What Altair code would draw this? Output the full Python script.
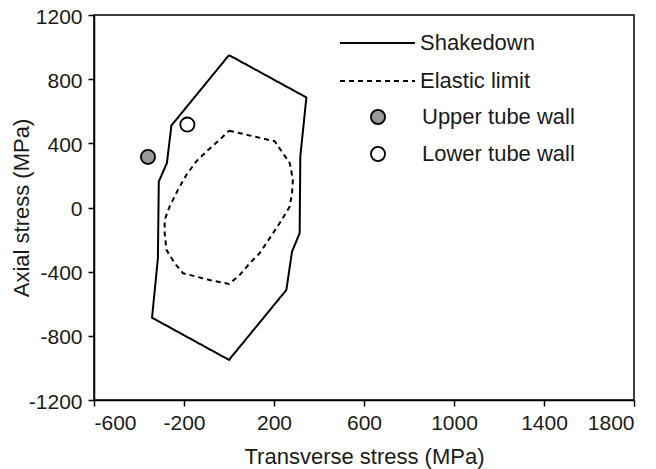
import altair as alt
import pandas as pd

# Shakedown boundary (closed polygon)
shake_x = [0, 344, 317, 314, 280, 255, 0, -342, -316, -312, -276, -256, 0]
shake_y = [950, 686, 319, -160, -275, -514, -950, -687, -316, 162, 277, 511, 950]

# Elastic limit boundary (closed curve)
elastic_x = [0, 77, 203, 270, 284, 280, 270, 225, 181, 136, 92, 48, 0, -86, -145,
             -204, -241, -278, -286, -286, -264, -227, -189, -145, -100, -41, 0]
elastic_y = [479, 454, 413, 277, 173, 90, 6, -98, -191, -285, -348, -420, -477, -452, -431,
             -410, -348, -264, -160, -77, 6, 110, 204, 288, 350, 423, 479]

# Measured points
point_names = ["Upper tube wall", "Lower tube wall"]
point_x = [-360, -185]
point_y = [315, 517]
point_fill = ["#999999", "#ffffff"]

line_names = ["Shakedown", "Elastic limit"]
x_ticks = [-600, -200, 200, 600, 1000, 1400, 1800]
y_ticks = [-1200, -800, -400, 0, 400, 800, 1200]

rows = []
for i, (x, y) in enumerate(zip(shake_x, shake_y)):
    rows.append({"series": "Shakedown", "x": x, "y": y, "order": i})
for i, (x, y) in enumerate(zip(elastic_x, elastic_y)):
    rows.append({"series": "Elastic limit", "x": x, "y": y, "order": i})
lines_df = pd.DataFrame(rows)
pts_df = pd.DataFrame({"series": point_names, "x": point_x, "y": point_y})

FONT = "Liberation Sans"

xenc = alt.X("x:Q", scale=alt.Scale(domain=[-600, 1800], nice=False, zero=False),
             axis=alt.Axis(values=x_ticks, title="Transverse stress (MPa)",
                           labelExpr="'' + datum.value",
                           titleX=270, titleY=63, titleAlign="center",
                           titleBaseline="alphabetic"))
yenc = alt.Y("y:Q", scale=alt.Scale(domain=[-1200, 1200], nice=False, zero=False),
             axis=alt.Axis(values=y_ticks, title="Axial stress (MPa)",
                           labelExpr="'' + datum.value", labelOffset=2,
                           titleX=-66, titleY=192.5, titleAngle=270, titleAlign="center",
                           titleBaseline="alphabetic"))

lines = alt.Chart(lines_df).mark_line(color="black", strokeWidth=2).encode(
    x=xenc,
    y=yenc,
    strokeDash=alt.StrokeDash(
        "series:N",
        scale=alt.Scale(domain=line_names, range=[[1, 0], [5, 4]]),
        legend=alt.Legend(title=None, orient="none", legendX=245, legendY=18,
                          symbolType="stroke", symbolSize=5625, symbolStrokeWidth=2,
                          symbolStrokeColor="black", clipHeight=20, rowPadding=16,
                          labelOffset=4, labelFontSize=22, labelFont=FONT,
                          labelColor="#1a1a1a", padding=0),
    ),
    order="order:Q",
)

pts = alt.Chart(pts_df).mark_circle(size=200, stroke="black", strokeWidth=1.8, opacity=1).encode(
    x="x:Q",
    y="y:Q",
    fill=alt.Fill(
        "series:N",
        scale=alt.Scale(domain=point_names, range=point_fill),
        legend=alt.Legend(title=None, orient="none", legendX=273, legendY=92,
                          symbolType="circle", symbolSize=200, symbolStrokeWidth=1.8,
                          symbolStrokeColor="black", symbolOpacity=1,
                          clipHeight=20, rowPadding=15,
                          labelOffset=33, labelFontSize=22, labelFont=FONT,
                          labelColor="#1a1a1a", padding=0),
    ),
)

chart = alt.layer(lines, pts).resolve_scale(strokeDash="independent", fill="independent").properties(
    width=540, height=385,
    autosize=alt.AutoSizeParams(type="none"),
    padding={"left": 86, "top": 7, "right": 13, "bottom": 69},
).configure_view(
    stroke="black", strokeWidth=1.5
).configure_axis(
    grid=False, domainColor="black", domainWidth=1.5, tickColor="black", tickWidth=1.5,
    tickSize=6, labelFontSize=21, labelFont=FONT, labelColor="#1a1a1a", labelPadding=6,
    titleFontSize=22, titleFont=FONT, titleFontWeight="normal", titleColor="#1a1a1a",
)

chart.save("out.html", embed_options={"renderer": "svg", "actions": False})
